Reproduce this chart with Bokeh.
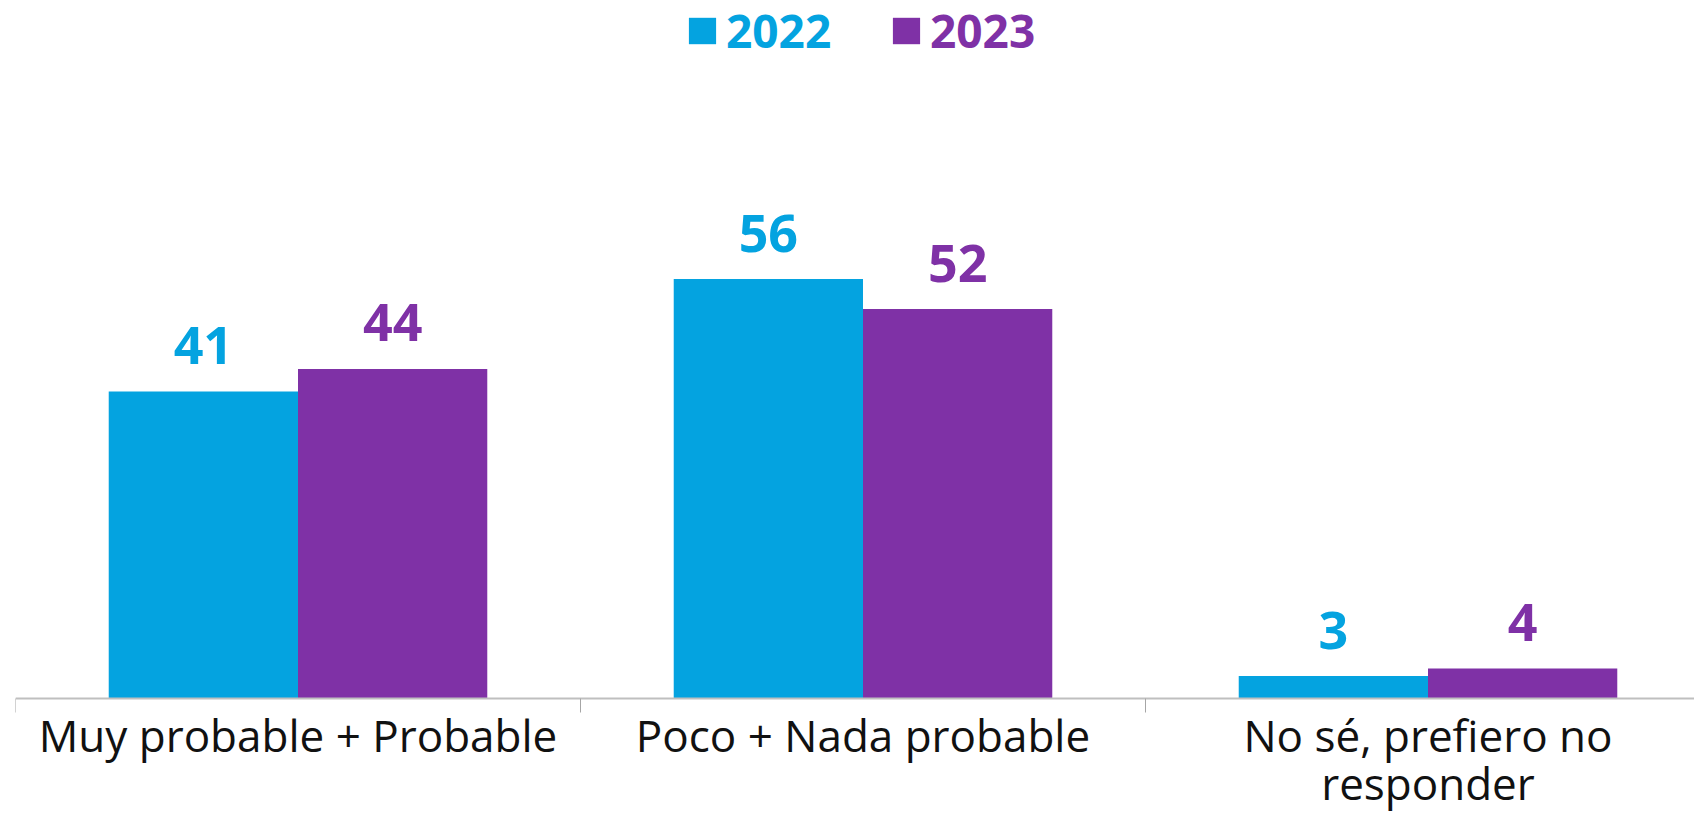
from bokeh.plotting import figure
from bokeh.models import ColumnDataSource, FixedTicker, Legend, LegendItem, LinearAxis
from bokeh.core.properties import value
from bokeh.embed import file_html
from bokeh.resources import INLINE

categories = ["Muy probable + Probable", "Poco + Nada probable", "No sé, prefiero no\nresponder"]
years = ["2022", "2023"]
values_2022 = [41, 56, 3]
values_2023 = [44, 52, 4]

BLUE = "#04A3E0"
PURPLE = "#7F31A6"
FONT = "Open Sans"
PX_PER_UNIT = 7.49

centers = [i + 0.5 for i in range(len(categories))]
bar_w = 0.335
half = bar_w / 2

src22 = ColumnDataSource(dict(x=[c - half for c in centers], top=values_2022,
                              label=[str(v) for v in values_2022]))
src23 = ColumnDataSource(dict(x=[c + half for c in centers], top=values_2023,
                              label=[str(v) for v in values_2023]))

p = figure(width=1694, height=814, output_backend="svg", toolbar_location=None,
           x_range=(0, 1679 / 565), y_range=(-116 / PX_PER_UNIT, 698 / PX_PER_UNIT),
           x_axis_location=None, y_axis_location=None,
           min_border_left=15, min_border_right=0, min_border_top=0, min_border_bottom=0)
p.outline_line_color = None
p.grid.visible = False
p.background_fill_color = "white"
p.border_fill_color = "white"

r22 = p.vbar(x="x", top="top", bottom=0, width=bar_w, source=src22, fill_color=BLUE, line_color=None)
r23 = p.vbar(x="x", top="top", bottom=0, width=bar_w, source=src23, fill_color=PURPLE, line_color=None)

for src, col in ((src22, BLUE), (src23, PURPLE)):
    p.text(x="x", y="top", text="label", source=src, text_align="center",
           text_baseline="alphabetic", y_offset=-46, text_color=col,
           text_font=value(FONT), text_font_style="bold", text_font_size="52px")

xaxis = LinearAxis(ticker=FixedTicker(ticks=centers, minor_ticks=[0, 1, 2, 3]),
                   fixed_location=0)
xaxis.major_label_overrides = {c: lab for c, lab in zip(centers, categories)}
xaxis.major_tick_line_color = None
xaxis.major_tick_out = 0
xaxis.major_tick_in = 0
xaxis.minor_tick_out = 14
xaxis.minor_tick_in = 0
xaxis.minor_tick_line_color = "#A6A6A6"
xaxis.minor_tick_line_width = 1
xaxis.axis_line_color = "#BFBFBF"
xaxis.axis_line_width = 2
xaxis.major_label_standoff = -8
xaxis.major_label_text_font = FONT
xaxis.major_label_text_font_size = "44px"
xaxis.major_label_text_color = "#111111"
xaxis.major_label_text_line_height = 0.81
p.add_layout(xaxis, "below")

for r, yr, col, xloc in ((r22, years[0], BLUE, 670), (r23, years[1], PURPLE, 874)):
    leg = Legend(items=[LegendItem(label=yr, renderers=[r])], location=(xloc, 753),
                 orientation="horizontal", border_line_color=None,
                 background_fill_alpha=0, padding=0, margin=0, spacing=0,
                 glyph_width=34, glyph_height=33, label_standoff=7,
                 label_text_font=FONT, label_text_font_style="bold",
                 label_text_font_size="46px", label_text_color=col)
    p.add_layout(leg, "center")

open("out.html", "w").write(file_html(p, INLINE))
